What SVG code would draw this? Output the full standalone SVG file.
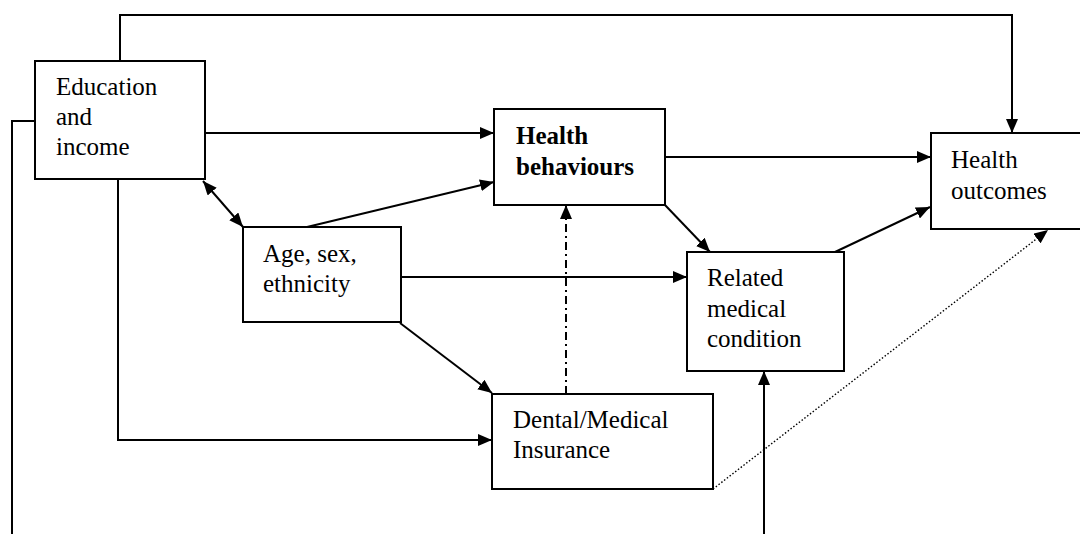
<svg xmlns="http://www.w3.org/2000/svg" width="1080" height="534" viewBox="0 0 1080 534">
  <style>
    .box { fill: #ffffff; stroke: #000000; stroke-width: 2; }
    .lbl { font-family: "Liberation Serif", "Times New Roman", serif; font-size: 25px; fill: #000000; }
    .bold { font-weight: bold; }
    .link { fill: none; stroke: #000000; stroke-width: 2; }
    .arrow { marker-end: url(#head); }
    .dashdot { stroke-dasharray: 8 4 2 4; }
    .dotted { stroke-width: 1.4; stroke-dasharray: 1.5 2; }
  </style>
  <defs>
    <marker id="head" markerUnits="userSpaceOnUse" markerWidth="16" markerHeight="12" refX="14" refY="6" orient="auto-start-reverse">
      <path d="M0,0 L14,6 L0,12 z" fill="#000000"/>
    </marker>
  </defs>

  <rect width="1080" height="534" fill="#ffffff"/>

  <!-- connectors -->
  <g id="connectors">
    <polyline class="link arrow" points="120,61 120,15 1012,15 1012,133"/>
    <line class="link arrow" x1="198" y1="133" x2="494" y2="133"/>
    <line class="link" x1="203" y1="181" x2="243" y2="227" marker-start="url(#head)" marker-end="url(#head)"/>
    <line class="link arrow" x1="307" y1="227" x2="494" y2="182"/>
    <line class="link arrow" x1="401" y1="277" x2="687" y2="277"/>
    <line class="link arrow" x1="400" y1="323" x2="492" y2="393"/>
    <polyline class="link arrow" points="118,179 118,440 492,440"/>
    <polyline class="link" points="35,121 12,121 12,534"/>
    <line class="link arrow" x1="665" y1="157" x2="931" y2="157"/>
    <line class="link arrow" x1="665" y1="205" x2="710" y2="252"/>
    <line class="link arrow" x1="835" y1="252" x2="930" y2="207"/>
    <line class="link dashdot arrow" x1="566" y1="394" x2="566" y2="205"/>
    <line class="link dotted arrow" x1="713" y1="489" x2="1048" y2="230"/>
    <line class="link arrow" x1="764" y1="534" x2="764" y2="371"/>
  </g>

  <g id="education">
    <rect class="box" x="35" y="61" width="170" height="118"/>
    <text class="lbl" x="56" y="95">Education</text>
    <text class="lbl" x="56" y="125">and</text>
    <text class="lbl" x="56" y="155">income</text>
  </g>

  <g id="health-behaviours">
    <rect class="box" x="494" y="109" width="171" height="96"/>
    <text class="lbl bold" x="516" y="144">Health</text>
    <text class="lbl bold" x="516" y="175">behaviours</text>
  </g>

  <g id="health-outcomes">
    <rect class="box" x="931" y="133" width="155" height="96"/>
    <text class="lbl" x="951" y="168">Health</text>
    <text class="lbl" x="951" y="199">outcomes</text>
  </g>

  <g id="demographics">
    <rect class="box" x="243" y="227" width="158" height="95"/>
    <text class="lbl" x="263" y="262">Age, sex,</text>
    <text class="lbl" x="263" y="292">ethnicity</text>
  </g>

  <g id="medical-condition">
    <rect class="box" x="687" y="252" width="157" height="119"/>
    <text class="lbl" x="707" y="286">Related</text>
    <text class="lbl" x="707" y="317">medical</text>
    <text class="lbl" x="707" y="347">condition</text>
  </g>

  <g id="insurance">
    <rect class="box" x="492" y="394" width="221" height="95"/>
    <text class="lbl" x="513" y="428">Dental/Medical</text>
    <text class="lbl" x="513" y="458">Insurance</text>
  </g>
</svg>
